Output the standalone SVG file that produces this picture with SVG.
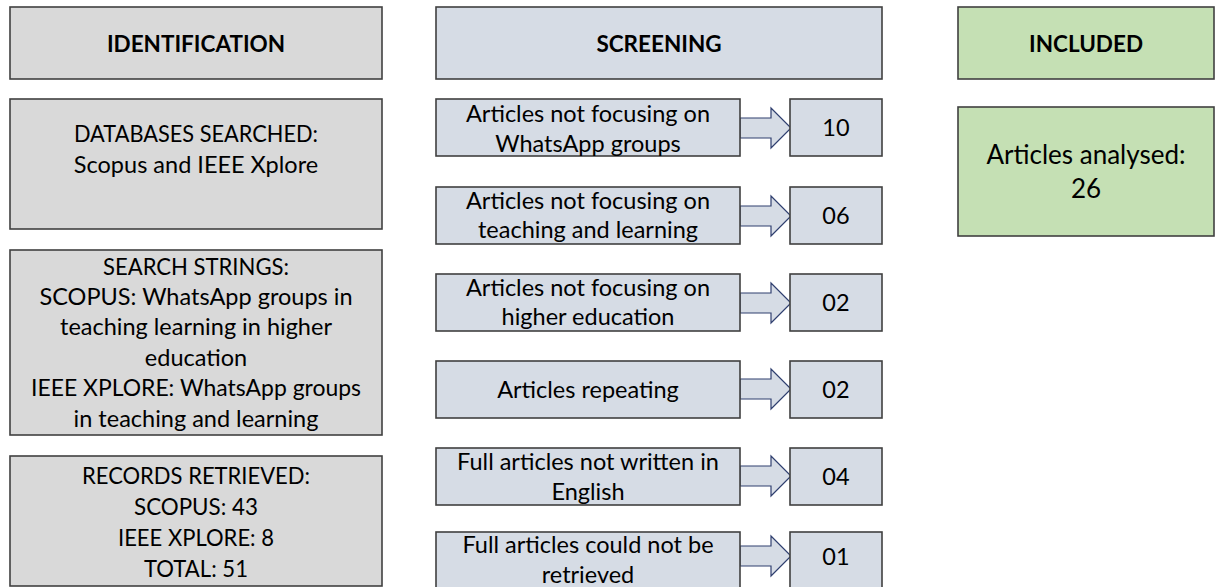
<svg xmlns="http://www.w3.org/2000/svg" width="1216" height="587" viewBox="0 0 1216 587">
<style>
  .gray { fill: #d9d9d9; stroke: #404040; stroke-width: 1.6; }
  .blue { fill: #d6dce5; stroke: #404040; stroke-width: 1.6; }
  .green { fill: #c5e0b4; stroke: #404040; stroke-width: 1.6; }
  .arrow { fill: #d6dce5; stroke: #2f3f6f; stroke-width: 1.2; stroke-linejoin: miter; }
  text { font-family: Lato, "Liberation Sans", sans-serif; fill: #000; text-anchor: middle; }
  .hdr { font-size: 22.5px; font-weight: bold; }
  .t { font-size: 23.5px; }
  .big { font-size: 26px; }
</style>
<rect width="1216" height="587" fill="#ffffff"/>

<g id="identification">
  <rect class="gray" x="10" y="7" width="372" height="72"/>
  <text class="hdr" x="196" y="52">IDENTIFICATION</text>
</g>
<g id="databases">
  <rect class="gray" x="10" y="99" width="372" height="130"/>
  <text class="t" x="196" y="142" textLength="244" lengthAdjust="spacingAndGlyphs">DATABASES SEARCHED:</text>
  <text class="t" x="196" y="173">Scopus and IEEE Xplore</text>
</g>
<g id="search-strings">
  <rect class="gray" x="10" y="250" width="372" height="185"/>
  <text class="t" x="196" y="275" textLength="186" lengthAdjust="spacingAndGlyphs">SEARCH STRINGS:</text>
  <text class="t" x="196" y="305">SCOPUS: WhatsApp groups in</text>
  <text class="t" x="196" y="335">teaching learning in higher</text>
  <text class="t" x="196" y="366">education</text>
  <text class="t" x="196" y="396" textLength="330" lengthAdjust="spacingAndGlyphs">IEEE XPLORE: WhatsApp groups</text>
  <text class="t" x="196" y="427">in teaching and learning</text>
</g>
<g id="records">
  <rect class="gray" x="10" y="456" width="372" height="130"/>
  <text class="t" x="196" y="484" textLength="228" lengthAdjust="spacingAndGlyphs">RECORDS RETRIEVED:</text>
  <text class="t" x="196" y="515" textLength="124" lengthAdjust="spacingAndGlyphs">SCOPUS: 43</text>
  <text class="t" x="196" y="546" textLength="156" lengthAdjust="spacingAndGlyphs">IEEE XPLORE: 8</text>
  <text class="t" x="196" y="577" textLength="104" lengthAdjust="spacingAndGlyphs">TOTAL: 51</text>
</g>

<g id="screening">
  <rect class="blue" x="436" y="7" width="446" height="72"/>
  <text class="hdr" x="659" y="52">SCREENING</text>
</g>

<g id="connectors">
  <polygon class="arrow" points="740,118 771,118 771,108 791,128 771,148 771,138 740,138"/>
  <polygon class="arrow" points="740,206 771,206 771,196 791,216 771,236 771,226 740,226"/>
  <polygon class="arrow" points="740,293 771,293 771,283 791,303 771,323 771,313 740,313"/>
  <polygon class="arrow" points="740,379 771,379 771,369 791,389 771,409 771,399 740,399"/>
  <polygon class="arrow" points="740,466 771,466 771,456 791,476 771,496 771,486 740,486"/>
  <polygon class="arrow" points="740,546 771,546 771,536 791,556 771,576 771,566 740,566"/>
</g>

<g id="ex1">
  <rect class="blue" x="436" y="99" width="304" height="57"/>
  <text class="t" x="588" y="122">Articles not focusing on</text>
  <text class="t" x="588" y="152">WhatsApp groups</text>
</g>
<g id="n1">
  <rect class="blue" x="790" y="99" width="92" height="57"/>
  <text class="t" x="836" y="136">10</text>
</g>
<g id="ex2">
  <rect class="blue" x="436" y="187" width="304" height="57"/>
  <text class="t" x="588" y="209">Articles not focusing on</text>
  <text class="t" x="588" y="238">teaching and learning</text>
</g>
<g id="n2">
  <rect class="blue" x="790" y="187" width="92" height="57"/>
  <text class="t" x="836" y="224">06</text>
</g>
<g id="ex3">
  <rect class="blue" x="436" y="274" width="304" height="57"/>
  <text class="t" x="588" y="296">Articles not focusing on</text>
  <text class="t" x="588" y="325">higher education</text>
</g>
<g id="n3">
  <rect class="blue" x="790" y="274" width="92" height="57"/>
  <text class="t" x="836" y="311">02</text>
</g>
<g id="ex4">
  <rect class="blue" x="436" y="361" width="304" height="57"/>
  <text class="t" x="588" y="398">Articles repeating</text>
</g>
<g id="n4">
  <rect class="blue" x="790" y="361" width="92" height="57"/>
  <text class="t" x="836" y="398">02</text>
</g>
<g id="ex5">
  <rect class="blue" x="436" y="448" width="304" height="57"/>
  <text class="t" x="588" y="470">Full articles not written in</text>
  <text class="t" x="588" y="500">English</text>
</g>
<g id="n5">
  <rect class="blue" x="790" y="448" width="92" height="57"/>
  <text class="t" x="836" y="485">04</text>
</g>
<g id="ex6">
  <rect class="blue" x="436" y="532" width="304" height="60"/>
  <text class="t" x="588" y="553">Full articles could not be</text>
  <text class="t" x="588" y="583">retrieved</text>
</g>
<g id="n6">
  <rect class="blue" x="790" y="532" width="92" height="60"/>
  <text class="t" x="836" y="565">01</text>
</g>

<g id="included">
  <rect class="green" x="958" y="7" width="256" height="72"/>
  <text class="hdr" x="1086" y="52">INCLUDED</text>
</g>
<g id="analysed">
  <rect class="green" x="958" y="107" width="256" height="129"/>
  <text class="big" x="1086" y="164">Articles analysed:</text>
  <text class="big" x="1086" y="198">26</text>
</g>
</svg>
